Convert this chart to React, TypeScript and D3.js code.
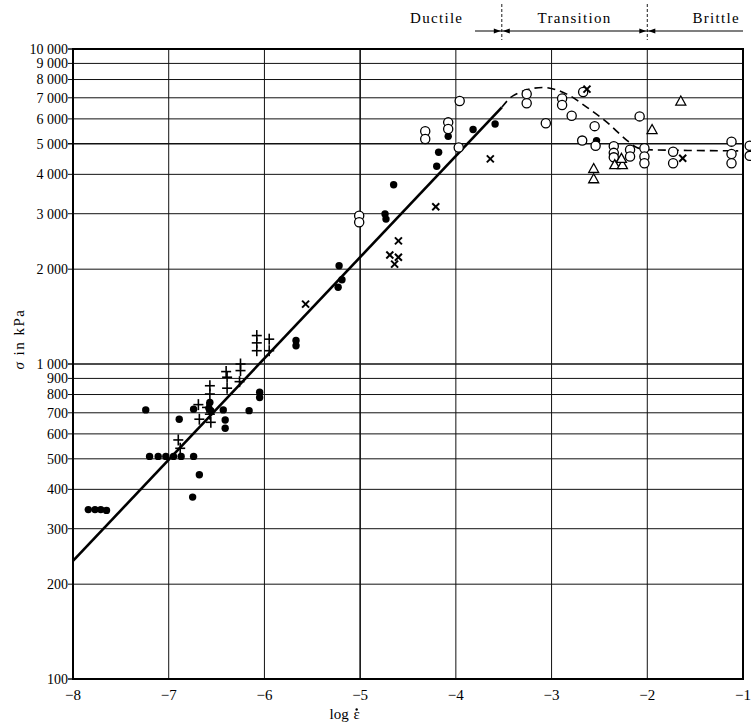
import React from "react";
import * as d3 from "d3";

// log strain rate vs stress (kPa)
const xTicks = [-8, -7, -6, -5, -4, -3, -2, -1];
const yGrid = [100, 200, 300, 400, 500, 600, 700, 800, 900, 1000, 2000, 3000, 4000, 5000, 6000, 7000, 8000, 9000, 10000];
const yLabels = ["100", "200", "300", "400", "500", "600", "700", "800", "900", "1 000", "2 000", "3 000", "4 000", "5 000", "6 000", "7 000", "8 000", "9 000", "10 000"];

const fitSolid: [number, number][] = [[-8, 237], [-3.52, 6530]];
const fitDashed: [number, number][] = [
  [-3.52, 6530], [-3.4, 7110], [-3.09, 7550], [-2.84, 7190], [-2.63, 6530],
  [-2.42, 5850], [-2.21, 5120], [-2.11, 4870], [-2.0, 4790], [-1.05, 4750],
];

const filledPts: [number, number][] = [
  [-7.84, 345], [-7.77, 345], [-7.71, 345], [-7.65, 343],
  [-7.24, 715], [-7.2, 509], [-7.11, 509], [-7.03, 509], [-6.95, 509], [-6.87, 509], [-6.74, 509],
  [-6.68, 445], [-6.75, 378], [-6.89, 668], [-6.74, 719],
  [-6.57, 755], [-6.58, 723], [-6.56, 711], [-6.43, 715], [-6.41, 664], [-6.41, 625],
  [-6.16, 711], [-6.05, 813], [-6.05, 783],
  [-5.67, 1188], [-5.67, 1143], [-5.22, 2051], [-5.19, 1852], [-5.23, 1753],
  [-4.74, 2995], [-4.73, 2884], [-4.65, 3707],
  [-4.2, 4244], [-4.18, 4700], [-4.08, 5280], [-3.82, 5550], [-3.59, 5780],
  [-2.53, 5120],
];

const openPts: [number, number][] = [
  [-5.01, 2958], [-5.01, 2818],
  [-4.32, 5480], [-4.32, 5180], [-4.08, 5850], [-4.08, 5570], [-3.96, 6840], [-3.97, 4870],
  [-3.26, 7200], [-3.26, 6730], [-3.06, 5810], [-2.89, 6970], [-2.89, 6640], [-2.79, 6140],
  [-2.67, 7300], [-2.55, 5690], [-2.68, 5120], [-2.54, 4930],
  [-2.35, 4910], [-2.35, 4680], [-2.35, 4530], [-2.18, 4790], [-2.18, 4560],
  [-2.08, 6110], [-2.03, 4840], [-2.03, 4560], [-2.03, 4340],
  [-1.73, 4720], [-1.73, 4340], [-1.12, 5080], [-1.12, 4640], [-1.12, 4340],
  [-0.93, 4930], [-0.93, 4580],
];

const crossPts: [number, number][] = [
  [-5.57, 1549], [-4.21, 3157], [-4.6, 2459], [-4.69, 2218], [-4.6, 2183], [-4.64, 2075],
  [-3.64, 4480], [-2.63, 7460], [-1.63, 4500],
];

const plusPts: [number, number][] = [
  [-6.9, 574], [-6.88, 540], [-6.69, 743], [-6.68, 668],
  [-6.57, 853], [-6.57, 803], [-6.6, 728], [-6.57, 693], [-6.56, 653],
  [-6.4, 946], [-6.39, 908], [-6.39, 838], [-6.25, 1000], [-6.25, 953], [-6.26, 879],
  [-6.08, 1231], [-6.08, 1167], [-6.08, 1102], [-5.95, 1199], [-5.95, 1102],
];

const trianglePts: [number, number][] = [
  [-2.56, 4160], [-2.56, 3860], [-2.34, 4280], [-2.26, 4280], [-2.27, 4480],
  [-1.95, 5530], [-1.65, 6810],
];

const zones = [
  { name: "Ductile", at: -4.2 },
  { name: "Transition", at: -2.76 },
  { name: "Brittle", at: -1.28 },
];
const zoneBounds = [-3.52, -2.0];

const serif = "'Liberation Serif', 'DejaVu Serif', serif";

export default function App() {
  const width = 751;
  const height = 722;
  const x = d3.scaleLinear().domain([-8, -1]).range([73, 743]);
  const y = d3.scaleLog().domain([100, 10000]).range([679, 49]);
  const line = d3
    .line<[number, number]>()
    .x((d) => x(d[0]))
    .y((d) => y(d[1]));
  const curve = d3
    .line<[number, number]>()
    .x((d) => x(d[0]))
    .y((d) => y(d[1]))
    .curve(d3.curveMonotoneX);

  const heavy = new Set([1000, 5000, 10000, 100]);
  const headerY = 31;
  const xl = x(-5.12);

  return (
    <div style={{ position: "absolute", left: 0, top: 0 }}>
      <svg width={width} height={height} style={{ display: "block", background: "#fff" }}>
        {/* grid */}
        {yGrid.map((v) => (
          <line
            key={"h" + v}
            x1={x(-8) - 5}
            x2={x(-1)}
            y1={y(v)}
            y2={y(v)}
            stroke="#111"
            strokeWidth={heavy.has(v) ? 1.6 : 1}
          />
        ))}
        {xTicks.map((t) => (
          <line key={"v" + t} x1={x(t)} x2={x(t)} y1={y(10000)} y2={y(100)} stroke="#111" strokeWidth={t === -5 ? 1.6 : 1} />
        ))}
        <rect x={x(-8)} y={y(10000)} width={x(-1) - x(-8)} height={y(100) - y(10000)} fill="none" stroke="#000" strokeWidth={2} />

        {/* y labels */}
        {yGrid.map((v, i) => (
          <text key={"yl" + v} x={68} y={y(v)} dy="0.35em" textAnchor="end" fontFamily={serif} fontSize={14} fill="#000">
            {yLabels[i]}
          </text>
        ))}
        {/* x labels */}
        {xTicks.map((t) => (
          <text key={"xl" + t} x={x(t)} y={700} textAnchor="middle" fontFamily={serif} fontSize={15} fill="#000">
            {"\u2212" + Math.abs(t)}
          </text>
        ))}
        <text x={xl} y={719} textAnchor="end" fontFamily={serif} fontSize={15} fill="#000">
          log
        </text>
        <text x={xl + 8} y={719} textAnchor="middle" fontFamily={serif} fontSize={15} fill="#000">
          ε
        </text>
        <circle cx={xl + 8} cy={709.5} r={1.2} fill="#000" />
        <text
          transform={`translate(24, ${y(1200)}) rotate(-90)`}
          textAnchor="middle"
          fontFamily={serif}
          fontSize={15}
          letterSpacing={1.5}
          fill="#000"
        >
          <tspan fontStyle="italic">σ</tspan> in kPa
        </text>

        {/* zone header */}
        <line x1={x(-3.8)} x2={x(-1)} y1={headerY} y2={headerY} stroke="#000" strokeWidth={1.2} />
        {zoneBounds.map((b) => (
          <g key={"zb" + b}>
            <line x1={x(b)} x2={x(b)} y1={4} y2={40} stroke="#000" strokeWidth={0.9} strokeDasharray="3 2" />
            <path d={`M${x(b) - 1},${headerY} l-7,-2.5 l0,5 z`} fill="#000" />
            <path d={`M${x(b) + 1},${headerY} l7,-2.5 l0,5 z`} fill="#000" />
          </g>
        ))}
        {zones.map((z) => (
          <text key={z.name} x={x(z.at)} y={23} textAnchor="middle" fontFamily={serif} fontSize={15} letterSpacing={1.3} fill="#000">
            {z.name}
          </text>
        ))}

        {/* fitted curves */}
        <path d={line(fitSolid) || ""} fill="none" stroke="#000" strokeWidth={2.6} />
        <path d={curve(fitDashed) || ""} fill="none" stroke="#000" strokeWidth={1.6} strokeDasharray="8 5" />

        {/* markers */}
        {plusPts.map((p, i) => (
          <g key={"p" + i} transform={`translate(${x(p[0])},${y(p[1])})`} stroke="#000" strokeWidth={1.6}>
            <line x1={-5} x2={5} y1={0} y2={0} />
            <line x1={0} x2={0} y1={-5.5} y2={5.5} />
          </g>
        ))}
        {filledPts.map((p, i) => (
          <circle key={"f" + i} cx={x(p[0])} cy={y(p[1])} r={3.7} fill="#000" />
        ))}
        {openPts.map((p, i) => (
          <circle key={"o" + i} cx={x(p[0])} cy={y(p[1])} r={4.6} fill="#fff" stroke="#000" strokeWidth={1.3} />
        ))}
        {crossPts.map((p, i) => (
          <g key={"c" + i} transform={`translate(${x(p[0])},${y(p[1])})`} stroke="#000" strokeWidth={2}>
            <line x1={-3.5} x2={3.5} y1={-3.5} y2={3.5} />
            <line x1={-3.5} x2={3.5} y1={3.5} y2={-3.5} />
          </g>
        ))}
        {trianglePts.map((p, i) => (
          <path
            key={"t" + i}
            d={`M${x(p[0])},${y(p[1]) - 5.5} l5,9 l-10,0 z`}
            fill="#fff"
            stroke="#000"
            strokeWidth={1.3}
          />
        ))}
      </svg>
    </div>
  );
}
